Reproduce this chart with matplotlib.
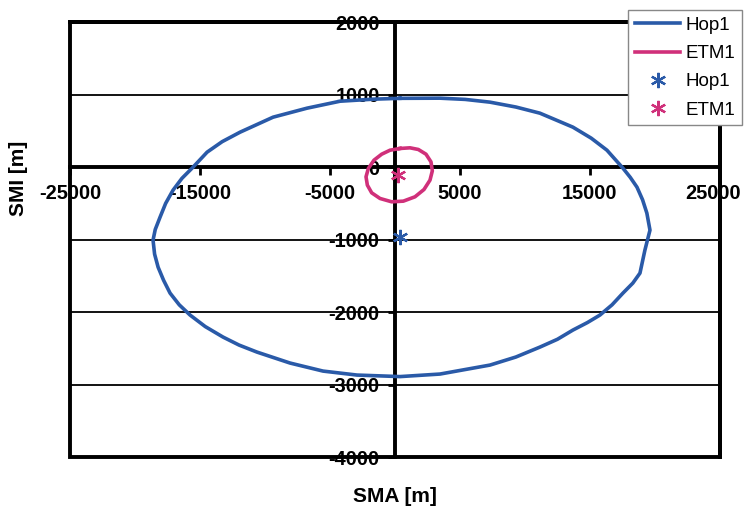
import matplotlib.pyplot as plt
from matplotlib.ticker import MultipleLocator
from matplotlib.transforms import ScaledTranslation

plt.rcParams['font.family'] = ['Liberation Sans', 'DejaVu Sans']
plt.rcParams['axes.unicode_minus'] = False

# Hop1 trajectory (SMA, SMI)
hop1_sma = [385, -1690, -4230, -6770, -9380, -11920, -13300, -14460, -15540,
            -16400, -17080, -17650, -18080, -18450, -18620, -18500, -18230,
            -17810, -17310, -16600, -15770, -14600, -13230, -12000, -10620,
            -8080, -5540, -2920, 385, 3460, 7310, 9300, 11150, 12500, 13690,
            14800, 15770, 16700, 17540, 18300, 18850, 19230, 19620, 19380,
            19050, 18620, 18100, 17540, 16310, 15100, 13690, 11150, 9300,
            7310, 5400, 3460, 385]
hop1_smi = [950, 938, 910, 814, 690, 483, 352, 207, 0,
            -155, -317, -500, -690, -860, -1007, -1200, -1380,
            -1560, -1738, -1900, -2041, -2200, -2345, -2455, -2552,
            -2703, -2814, -2869, -2890, -2855, -2731, -2620, -2483, -2375, -2248,
            -2145, -2041, -1900, -1738, -1600, -1462, -1145, -869, -634,
            -450, -276, -140, -14, 234, 400, 552, 745, 830,
            897, 935, 952, 950]

# ETM1 trajectory
etm1_sma = [385, -385, -1026, -1615, -2051, -2231, -2128, -1795, -1154, -256,
            641, 1538, 2231, 2692, 2872, 2769, 2385, 1795, 1154, 385]
etm1_smi = [258, 234, 179, 97, -18, -133, -248, -354, -432, -478,
            -469, -409, -308, -179, -51, 73, 179, 244, 267, 258]

# centre markers
hop1_center = (400, -965)
etm1_center = (200, -110)

blue = '#2a5aa8'
pink = '#d0307a'

fig = plt.figure(figsize=(7.46, 5.17), dpi=100)
ax = fig.add_axes([0.094, 0.116, 0.871, 0.841])

ax.plot(hop1_sma, hop1_smi, color=blue, lw=2.6, label='Hop1', zorder=3,
        solid_joinstyle='round')
ax.plot(etm1_sma, etm1_smi, color=pink, lw=2.6, label='ETM1', zorder=3,
        solid_joinstyle='round')
ax.plot([hop1_center[0]], [hop1_center[1]], ls='none', marker=(6, 2, 0),
        ms=11, mew=1.6, color=blue, label='Hop1', zorder=4)
ax.plot([etm1_center[0]], [etm1_center[1]], ls='none', marker=(6, 2, 0),
        ms=11, mew=1.6, color=pink, label='ETM1', zorder=4)

ax.set_xlim(-25000, 25000)
ax.set_ylim(-4000, 2000)
ax.set_xticks([-25000, -15000, -5000, 5000, 15000, 25000])
ax.yaxis.set_major_locator(MultipleLocator(1000))

# axes crossing at the origin, frame around the plot area
ax.spines['left'].set_position(('data', 0))
ax.spines['bottom'].set_position(('data', 0))
for s in ['left', 'bottom', 'top', 'right']:
    ax.spines[s].set_linewidth(2.8)
    ax.spines[s].set_color('black')
ax.patch.set_edgecolor('black')
ax.patch.set_linewidth(2.8)

ax.grid(axis='y', color='black', lw=1.3)
ax.set_axisbelow(True)

ax.tick_params(axis='x', direction='out', length=6, width=2, pad=6,
               labelsize=14.4)
ax.tick_params(axis='y', direction='out', length=5, width=2, pad=6,
               labelsize=14.4)
for lab in ax.get_xticklabels() + ax.get_yticklabels():
    lab.set_fontweight('bold')
# last x label sits a little inside the figure edge
last = ax.get_xticklabels()[-1]
last.set_transform(last.get_transform()
                   + ScaledTranslation(-7 / 100, 0, fig.dpi_scale_trans))

ax.set_xlabel('SMA [m]', fontsize=15, fontweight='bold')
ax.set_ylabel('SMI [m]', fontsize=15, fontweight='bold')
ax.xaxis.set_label_coords(0.5, -0.07)
ax.yaxis.set_label_coords(-0.065, 0.64)

leg = ax.legend(loc='upper right', bbox_to_anchor=(1.034, 1.028),
                fontsize=13.5, fancybox=False, framealpha=1,
                edgecolor='#888888', handlelength=2.4, handletextpad=0.3,
                labelspacing=0.6, borderpad=0.35, borderaxespad=0)
leg.get_frame().set_linewidth(1)

fig.savefig('out.png', dpi=100)
